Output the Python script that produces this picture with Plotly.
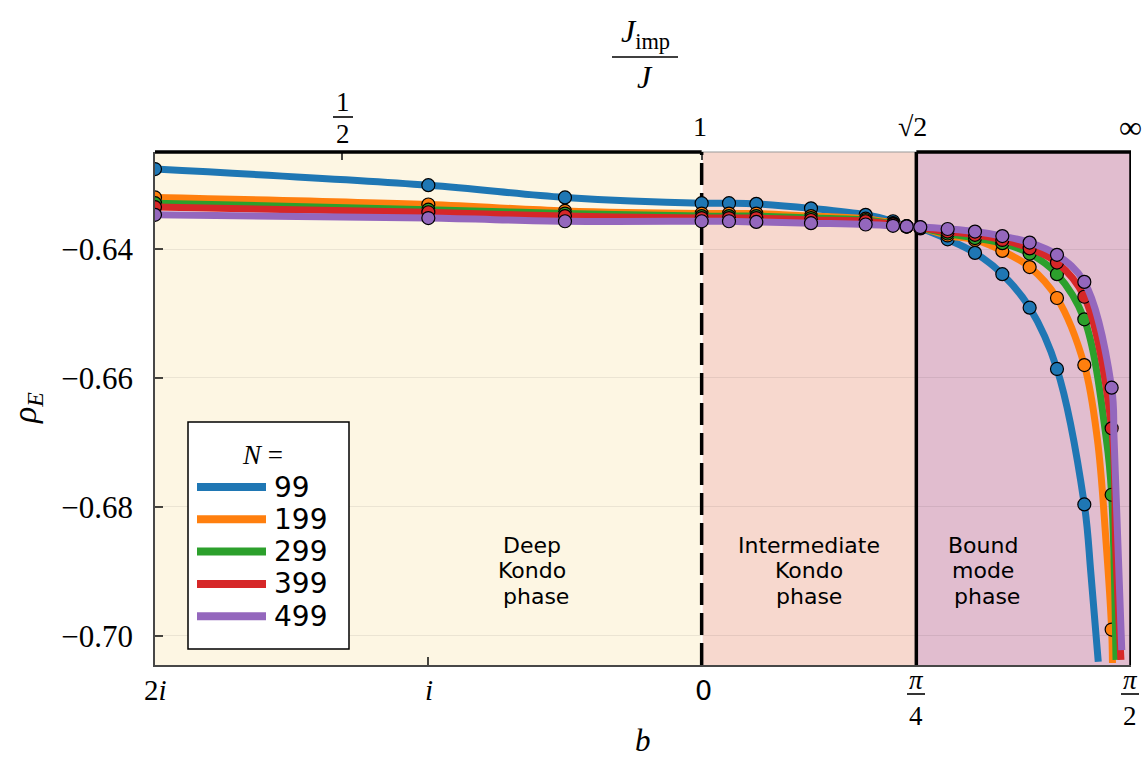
import math
import plotly.graph_objects as go

PI = math.pi

# ---------------- data ----------------
b_pts = [-2.0, -1.0, -0.5, 0.0, 0.1, 0.2, 0.4, 0.6, 0.7, 0.75, 0.8, 0.9, 1.0, 1.1, 1.2, 1.3, 1.4, 1.5]
N_labels = ["99", "199", "299", "399", "499"]
colors = ["#1f77b4", "#ff7f0e", "#2ca02c", "#d62728", "#9467bd"]

rho_99 = [-0.6276, -0.6301, -0.6320, -0.6329, -0.6329, -0.6330, -0.6337, -0.6347, -0.6357, -0.6365,
          -0.6368, -0.6385, -0.6406, -0.6439, -0.6491, -0.6586, -0.6796, None]
rho_199 = [-0.6320, -0.6331, -0.6341, -0.6345, -0.6345, -0.6345, -0.6349, -0.6353, -0.6360, -0.6365,
           -0.6367, -0.6379, -0.6386, -0.6403, -0.6428, -0.6476, -0.6580, -0.6990]
rho_299 = [-0.6329, -0.6339, -0.6345, -0.6349, -0.6349, -0.6349, -0.6352, -0.6355, -0.6361, -0.6365,
           -0.6367, -0.6376, -0.6383, -0.6391, -0.6407, -0.6439, -0.6509, -0.6781]
rho_399 = [-0.6335, -0.6343, -0.6349, -0.6352, -0.6352, -0.6352, -0.6355, -0.6357, -0.6362, -0.6365,
           -0.6367, -0.6373, -0.6378, -0.6386, -0.6399, -0.6421, -0.6474, -0.6678]
rho_499 = [-0.6347, -0.6352, -0.6357, -0.6357, -0.6357, -0.6358, -0.6360, -0.6362, -0.6364, -0.6365,
           -0.6366, -0.6369, -0.6373, -0.6380, -0.6390, -0.6409, -0.6451, -0.6615]

tail_b_99 = [1.424, 1.451]
tail_rho_99 = [-0.6903, -0.7040]
tail_b_199 = [1.448, 1.479, 1.503]
tail_rho_199 = [-0.6696, -0.6851, -0.7042]
tail_b_299 = [1.481, 1.516]
tail_rho_299 = [-0.6696, -0.7037]
tail_b_399 = [1.515, 1.534]
tail_rho_399 = [-0.6867, -0.7037]
tail_b_499 = [1.509, 1.537]
tail_rho_499 = [-0.6696, -0.7022]

series = [
    (rho_99, tail_b_99, tail_rho_99),
    (rho_199, tail_b_199, tail_rho_199),
    (rho_299, tail_b_299, tail_rho_299),
    (rho_399, tail_b_399, tail_rho_399),
    (rho_499, tail_b_499, tail_rho_499),
]

# axis ticks
x_tick_vals = [-2.0, -1.0, 0.0, PI / 4, PI / 2]
y_tick_vals = [-0.70, -0.68, -0.66, -0.64]
y_tick_text = ["\u22120.70", "\u22120.68", "\u22120.66", "\u22120.64"]
top_tick_vals = [-math.acosh(2.0), 0.0, PI / 4, PI / 2]

Y_MIN, Y_MAX = -0.70450, -0.62496
X_MIN, X_MAX = -2.0, PI / 2

# ---------------- layout geometry ----------------
W, H = 1146, 759
ML, MR, MT, MB = 155, 15, 152, 94
PW, PH = W - ML - MR, H - MT - MB


def px2x(px):
    return (px - ML) / PW


def py2y(py):
    return (H - MB - py) / PH


SERIF = "Liberation Serif"
SANS = "DejaVu Sans"

fig = go.Figure()

for i, (rho, tb, tr) in enumerate(series):
    pts = [(b, r) for b, r in zip(b_pts, rho) if r is not None] + list(zip(tb, tr))
    pts.sort(key=lambda p: p[0])
    fig.add_trace(go.Scatter(
        x=[p[0] for p in pts], y=[p[1] for p in pts], mode="lines",
        line=dict(color=colors[i], width=7, shape="spline", smoothing=1.0),
        showlegend=False, hoverinfo="skip"))
    fig.add_trace(go.Scatter(
        x=b_pts, y=rho, mode="markers",
        marker=dict(color=colors[i], size=13, line=dict(color="black", width=1.2)),
        showlegend=False, name="N = " + N_labels[i]))

# dummy trace for the top axis
fig.add_trace(go.Scatter(x=top_tick_vals, y=[None] * 4, xaxis="x2", mode="markers",
                         showlegend=False, hoverinfo="skip"))

shapes = []
# phase region fills
regions = [(X_MIN, 0.0, "#fdf6e3"), (0.0, PI / 4, "#f7d8ce"), (PI / 4, PI / 2, "#e1bdcf")]
for x0, x1, c in regions:
    shapes.append(dict(type="rect", xref="x", yref="paper", x0=x0, x1=x1, y0=0, y1=1,
                       fillcolor=c, line=dict(width=0), layer="below"))
# borders
shapes.append(dict(type="line", xref="x", yref="paper", x0=0, x1=PI / 4, y0=1, y1=1,
                   line=dict(color="#9a9a9a", width=1.2), layer="between"))
shapes.append(dict(type="line", xref="x", yref="paper", x0=X_MIN, x1=0, y0=1, y1=1,
                   line=dict(color="black", width=3.5), layer="between"))
shapes.append(dict(type="line", xref="x", yref="paper", x0=PI / 4, x1=PI / 2, y0=1, y1=1,
                   line=dict(color="black", width=3.5), layer="between"))
shapes.append(dict(type="line", xref="x", yref="paper", x0=PI / 4, x1=PI / 4, y0=0, y1=1,
                   line=dict(color="black", width=3.5), layer="between"))
shapes.append(dict(type="line", xref="x", yref="paper", x0=PI / 2, x1=PI / 2, y0=0, y1=1,
                   line=dict(color="black", width=3.5), layer="between"))
shapes.append(dict(type="line", xref="x", yref="paper", x0=0, x1=0, y0=0, y1=1,
                   line=dict(color="white", width=2), layer="between"))
shapes.append(dict(type="line", xref="x", yref="paper", x0=0, x1=0, y0=0, y1=1,
                   line=dict(color="black", width=3.5, dash="22px,8px"), layer="between"))

annotations = []


def ann(text, px, py, size, font=SERIF, xanchor="center", **kw):
    annotations.append(dict(text=text, xref="paper", yref="paper", x=px2x(px), y=py2y(py),
                            xanchor=xanchor, yanchor="middle", showarrow=False,
                            font=dict(family=font, size=size, color="black"), **kw))


def frac(num, den, px, py_num, py_bar, py_den, half_w, size):
    ann(num, px, py_num, size)
    ann(den, px, py_den, size)
    shapes.append(dict(type="line", xref="paper", yref="paper", x0=px2x(px - half_w),
                       x1=px2x(px + half_w), y0=py2y(py_bar), y1=py2y(py_bar),
                       line=dict(color="black", width=1.6)))


# bottom tick labels
ann("2<i>i</i>", 155, 690, 29)
ann("<i>i</i>", 429, 690, 29)
ann("0", 703, 690, 27, font=SANS)
frac("<i>π</i>", "4", 916, 680, 694, 716, 9, 27)
frac("<i>π</i>", "2", 1130, 680, 694, 716, 9, 27)
ann("<i>b</i>", 643, 740, 31)

# top tick labels
frac("1", "2", 343, 102, 117, 134, 10, 27)
ann("1", 700, 127, 28)
ann("√2", 912, 127, 28)
ann("∞", 1130, 127, 32)
frac("<i>J</i><sub>imp</sub>", "<i>J</i>", 645, 34, 57, 77, 33, 32)

# y label
ann("<i>ρ</i><sub><i>E</i></sub>", 27, 408, 34, textangle=-90)

# phase labels
phase_lines = [(["Deep", "Kondo", " phase"], -0.62), (["Intermediate", "Kondo", "phase"], PI / 8),
               (["Bound", "mode", " phase"], 1.03)]
for lines, bx in phase_lines:
    for k, t in enumerate(lines):
        annotations.append(dict(text=t, xref="x", yref="paper", x=bx, y=py2y(545 + 25.5 * k),
                                xanchor="center", yanchor="middle", showarrow=False,
                                font=dict(family=SANS, size=22, color="black")))

# manual legend
shapes.append(dict(type="rect", xref="paper", yref="paper", x0=px2x(188), x1=px2x(349),
                   y0=py2y(649), y1=py2y(422), fillcolor="white",
                   line=dict(color="black", width=1.5), layer="above"))
ann("<i>N</i> =", 262, 455, 27)
for i, lab in enumerate(N_labels):
    yy = 487 + 32.3 * i
    shapes.append(dict(type="line", xref="paper", yref="paper", x0=px2x(197), x1=px2x(266),
                       y0=py2y(yy), y1=py2y(yy), line=dict(color=colors[i], width=8), layer="above"))
    ann(lab, 272, yy, 28, font=SANS, xanchor="left")

axis_line = "rgba(0,0,0,0.72)"
fig.update_layout(
    width=W, height=H, margin=dict(l=ML, r=MR, t=MT, b=MB, autoexpand=False),
    paper_bgcolor="white", plot_bgcolor="white",
    xaxis=dict(range=[X_MIN, X_MAX], tickvals=x_tick_vals, showticklabels=False,
               ticks="inside", ticklen=8, tickwidth=1.5, tickcolor=axis_line,
               showline=True, linecolor=axis_line, linewidth=1.5,
               showgrid=False, zeroline=False),
    xaxis2=dict(range=[X_MIN, X_MAX], overlaying="x", side="top", tickvals=top_tick_vals,
                showticklabels=False, ticks="inside", ticklen=8, tickwidth=1.5,
                tickcolor=axis_line, showline=False, showgrid=False, zeroline=False),
    yaxis=dict(range=[Y_MIN, Y_MAX], tickvals=y_tick_vals, ticktext=y_tick_text,
               tickfont=dict(family=SERIF, size=31, color="black"),
               ticks="inside", ticklen=8, tickwidth=1.5, tickcolor=axis_line,
               ticklabelstandoff=14,
               showline=True, linecolor=axis_line, linewidth=1.5,
               showgrid=True, gridcolor="rgba(0,0,0,0.07)", gridwidth=1, zeroline=False),
    shapes=shapes, annotations=annotations, showlegend=False,
)

fig.write_html("out.html")
